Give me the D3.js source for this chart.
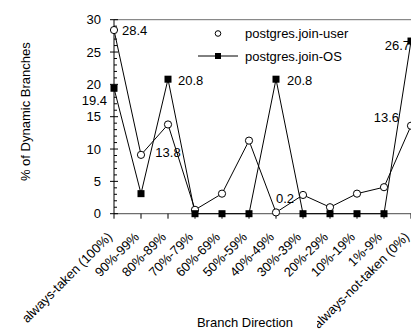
<!DOCTYPE html>
<html>
<head>
<meta charset="utf-8">
<script src="https://cdn.jsdelivr.net/npm/d3@7"></script>
<style>
  html, body { margin: 0; padding: 0; background: #fff; overflow: hidden; }
  svg { display: block; font-family: "Liberation Sans", Arial, sans-serif; }
</style>
</head>
<body>
<svg id="chart" width="411" height="330"></svg>
<script>
// Branch-direction buckets
const categories = [
  "always-taken (100%)", "90%-99%", "80%-89%", "70%-79%", "60%-69%", "50%-59%",
  "40%-49%", "30%-39%", "20%-29%", "10%-19%", "1%-9%", "always-not-taken (0%)"
];
// Share of dynamic branches (%) per bucket
const userValues = [28.4, 9.1, 13.8, 0.6, 3.1, 11.3, 0.2, 2.9, 1.0, 3.1, 4.1, 13.6];
const osValues   = [19.4, 3.1, 20.8, 0, 0, 0, 20.8, 0, 0, 0, 0, 26.7];
const seriesNames = ["postgres.join-user", "postgres.join-OS"];
const yTicks = [0, 5, 10, 15, 20, 25, 30];

// Value callouts: series, bucket index, and text placement offsets
const callouts = [
  { s: 0, i: 0,  dx: 8,   dy: 4.5, anchor: "start" },
  { s: 1, i: 0,  dx: -7,  dy: 17,  anchor: "end" },
  { s: 1, i: 2,  dx: 10,  dy: 5.5, anchor: "start" },
  { s: 0, i: 2,  dx: 0,   dy: 33,  anchor: "middle" },
  { s: 1, i: 6,  dx: 11,  dy: 5.5, anchor: "start" },
  { s: 0, i: 6,  dx: 0,   dy: -9,  anchor: "start" },
  { s: 0, i: 11, dx: -12, dy: -4,  anchor: "end" },
  { s: 1, i: 11, dx: -1,  dy: 8.5, anchor: "end" }
];

const svg = d3.select("#chart");
const plotL = 114, plotR = 411, plotT = 19.7, plotB = 213.7;

const x = d3.scalePoint().domain(categories).range([plotL, plotR]).padding(0);
const y = d3.scaleLinear().domain([0, 30]).range([plotB, plotT]);

const FS = 13;

// frame: top border and baseline
svg.append("line").attr("x1", plotL).attr("x2", plotR).attr("y1", plotT).attr("y2", plotT)
  .attr("stroke", "#6e6e6e").attr("stroke-width", 1);
svg.append("line").attr("x1", plotL).attr("x2", plotR).attr("y1", plotB).attr("y2", plotB)
  .attr("stroke", "#6e6e6e").attr("stroke-width", 1.2);

// y axis with major and minor ticks
svg.append("line").attr("x1", plotL).attr("x2", plotL).attr("y1", plotT).attr("y2", plotB)
  .attr("stroke", "#000").attr("stroke-width", 1);
const minor = d3.range(0, 31, 1).filter(v => v % 5 !== 0);
svg.selectAll(".ytmin").data(minor).join("line")
  .attr("x1", plotL).attr("x2", plotL + 3)
  .attr("y1", d => y(d)).attr("y2", d => y(d))
  .attr("stroke", "#000").attr("stroke-width", 1);
svg.selectAll(".ytmaj").data(yTicks).join("line")
  .attr("x1", plotL - 4).attr("x2", plotL + 4)
  .attr("y1", d => y(d)).attr("y2", d => y(d))
  .attr("stroke", "#000").attr("stroke-width", 1);
svg.selectAll(".ytl").data(yTicks).join("text")
  .attr("x", plotL - 13).attr("y", d => y(d)).attr("dy", "0.36em")
  .attr("text-anchor", "end").attr("font-size", FS).attr("fill", "#000")
  .text(d => d);

// x axis ticks and rotated labels
svg.selectAll(".xt").data(categories).join("line")
  .attr("x1", d => x(d)).attr("x2", d => x(d))
  .attr("y1", plotB).attr("y2", plotB + 5)
  .attr("stroke", "#000").attr("stroke-width", 1);
svg.selectAll(".xtl").data(categories).join("text")
  .attr("transform", d => `translate(${x(d) - 1},${plotB + 24}) rotate(-45)`)
  .attr("text-anchor", "end").attr("font-size", FS).attr("fill", "#000")
  .text(d => d);

// axis titles
const xTitleG = svg.append("g");
xTitleG.append("rect").attr("x", 190).attr("y", 310).attr("width", 127).attr("height", 20)
  .attr("fill", "#fff");
xTitleG.append("text").attr("x", 245).attr("y", 327).attr("text-anchor", "middle")
  .attr("font-size", FS).attr("fill", "#000").text("Branch Direction");
svg.append("text").attr("transform", `translate(30,${(plotT + plotB) / 2 - 5}) rotate(-90)`)
  .attr("text-anchor", "middle").attr("font-size", FS).attr("fill", "#000")
  .text("% of Dynamic Branches");

// series lines
const line = d3.line().x((d, i) => x(categories[i])).y(d => y(d));
const allSeries = [userValues, osValues];
allSeries.forEach(vals => {
  svg.append("path").datum(vals).attr("d", line)
    .attr("fill", "none").attr("stroke", "#000").attr("stroke-width", 1);
});

// markers
svg.selectAll(".mu").data(userValues).join("circle")
  .attr("cx", (d, i) => x(categories[i])).attr("cy", d => y(d)).attr("r", 3.6)
  .attr("fill", "#fff").attr("stroke", "#000").attr("stroke-width", 1);
svg.selectAll(".mo").data(osValues).join("rect")
  .attr("x", (d, i) => x(categories[i]) - 3.5).attr("y", d => y(d) - 3.5)
  .attr("width", 7).attr("height", 7).attr("fill", "#000");

// value callouts
svg.selectAll(".co").data(callouts).join("text")
  .attr("x", d => x(categories[d.i]) + d.dx)
  .attr("y", d => y(allSeries[d.s][d.i]) + d.dy)
  .attr("text-anchor", d => d.anchor).attr("font-size", FS).attr("fill", "#000")
  .text(d => allSeries[d.s][d.i].toFixed(1));

// legend
const lg = svg.append("g").attr("transform", "translate(218,0)");
lg.append("circle").attr("cx", 0).attr("cy", 33.5).attr("r", 2.8)
  .attr("fill", "#fff").attr("stroke", "#000").attr("stroke-width", 1);
lg.append("text").attr("x", 27).attr("y", 33.5).attr("dy", "0.36em")
  .attr("font-size", FS).attr("fill", "#000").text(seriesNames[0]);
lg.append("line").attr("x1", -20).attr("x2", 20).attr("y1", 56).attr("y2", 56)
  .attr("stroke", "#000").attr("stroke-width", 1);
lg.append("rect").attr("x", -3).attr("y", 53).attr("width", 6).attr("height", 6).attr("fill", "#000");
lg.append("text").attr("x", 27).attr("y", 56).attr("dy", "0.36em")
  .attr("font-size", FS).attr("fill", "#000").text(seriesNames[1]);
</script>
</body>
</html>
